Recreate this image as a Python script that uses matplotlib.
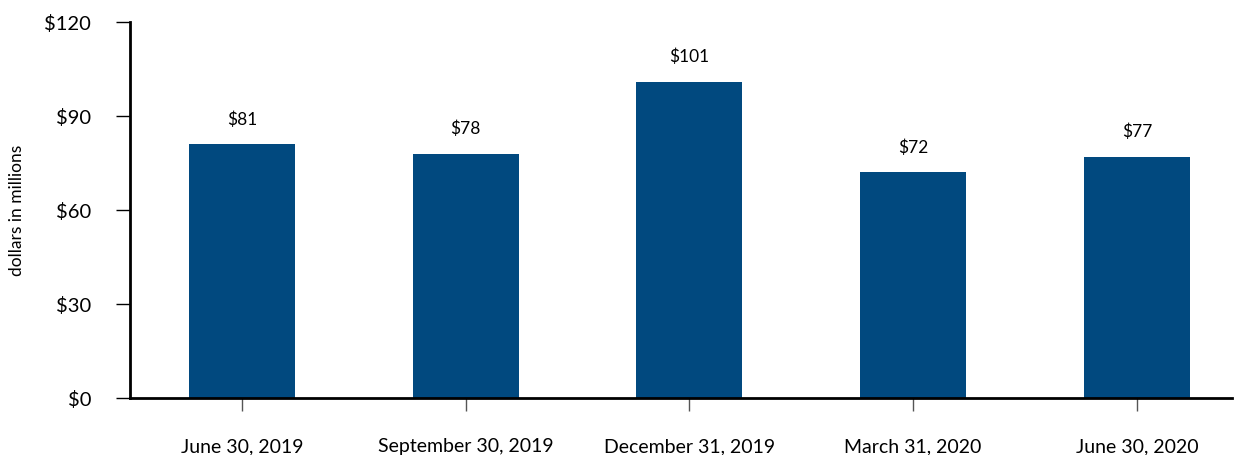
import matplotlib.pyplot as plt

# quarter-end balances, millions of dollars
quarters = ['June 30, 2019', 'September 30, 2019', 'December 31, 2019',
            'March 31, 2020', 'June 30, 2020']
balances = [81, 78, 101, 72, 77]
yticks = [0, 30, 60, 90, 120]

plt.rcParams['font.family'] = ['Lato', 'DejaVu Sans']

fig = plt.figure(figsize=(12.34, 4.55), dpi=100)
ax = fig.add_axes([130 / 1234, 1 - 398 / 455, 1102 / 1234, 376 / 455])

x = range(len(quarters))
bars = ax.bar(x, balances, width=0.474, color='#01497f', zorder=2)

for b, v in zip(bars, balances):
    ax.annotate('${}'.format(v), (b.get_x() + b.get_width() / 2, v),
                xytext=(0, 12), textcoords='offset points',
                ha='center', va='bottom', fontsize=12.5)

ax.set_xlim(-0.5, 4.425)
ax.set_ylim(0, 120)
ax.set_yticks(yticks)
ax.set_yticklabels(['${}'.format(t) for t in yticks], fontsize=14.5)
ax.set_xticks(list(x))
ax.set_xticklabels(quarters, fontsize=14)
ax.set_ylabel('dollars in millions', fontsize=12.5, labelpad=14)

for side in ['top', 'right']:
    ax.spines[side].set_visible(False)
ax.spines['left'].set_linewidth(2)
ax.spines['bottom'].set_linewidth(2)

ax.tick_params(axis='y', length=10, width=1, pad=18)
ax.tick_params(axis='x', length=9, width=1, color='#555555', pad=20)

fig.savefig('out.png', dpi=100)
